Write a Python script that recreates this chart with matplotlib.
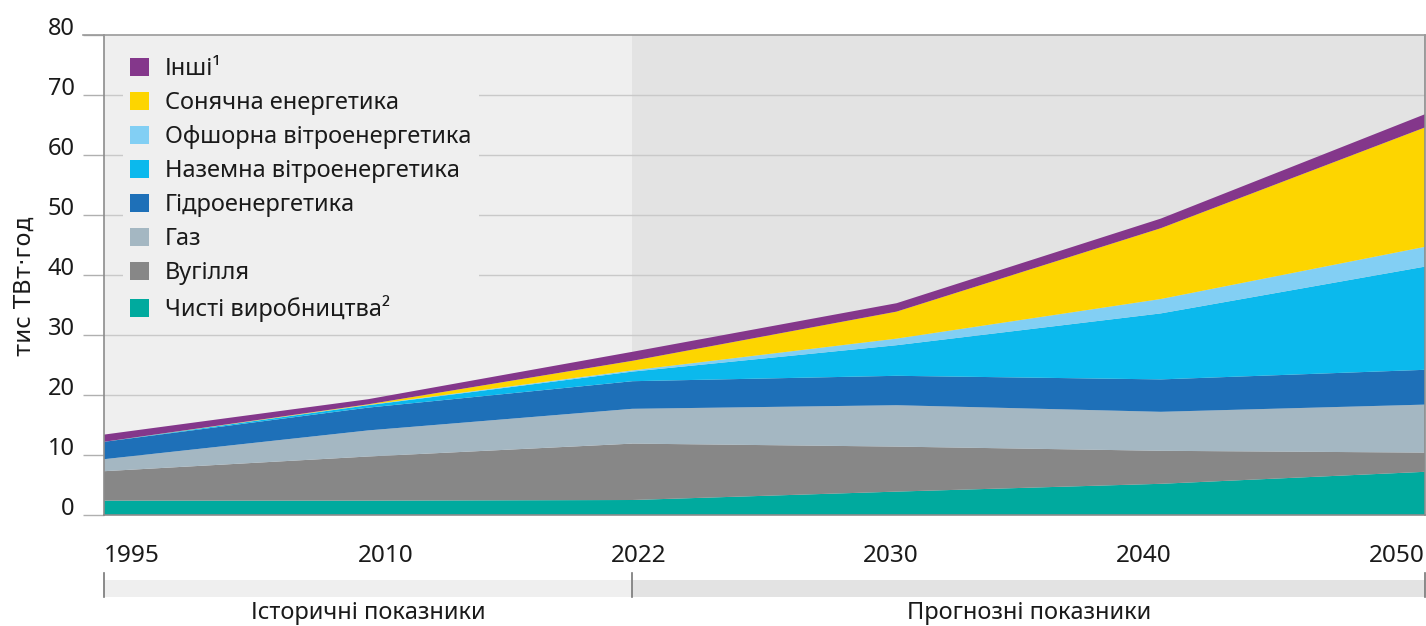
import matplotlib
matplotlib.use("Agg")
import matplotlib.pyplot as plt
from matplotlib.patches import Patch, Rectangle
from matplotlib.transforms import ScaledTranslation, blended_transform_factory

plt.rcParams['font.family'] = ['Noto Sans', 'DejaVu Sans']

years = ['1995', '2010', '2022', '2030', '2040', '2050']
clean = [2.4, 2.4, 2.5, 3.9, 5.2, 7.2]
coal = [4.9, 7.35, 9.4, 7.5, 5.5, 3.2]
gas = [2.0, 4.35, 5.8, 6.9, 6.5, 8.0]
hydro = [2.9, 3.8, 4.6, 4.9, 5.4, 5.8]
onshore = [0.0, 0.4, 1.6, 5.1, 11.0, 17.2]
offshore = [0.0, 0.05, 0.2, 1.1, 2.4, 3.3]
solar = [0.0, 0.1, 1.6, 4.5, 11.8, 19.9]
others = [1.2, 0.85, 1.5, 1.4, 1.6, 2.2]

labels = ['Чисті виробництва²', 'Вугілля', 'Газ', 'Гідроенергетика',
          'Наземна вітроенергетика', 'Офшорна вітроенергетика',
          'Сонячна енергетика', 'Інші¹']
colors = ['#00aa9e', '#878787', '#a4b7c2', '#1e70b8',
          '#0bb9ed', '#82cff4', '#fdd500', '#84378b']
periods = ['Історичні показники', 'Прогнозні показники']

W, H = 1426, 626
x = list(range(len(years)))
split = years.index('2022')
fs = 17
ink = '#1a1a1a'

fig = plt.figure(figsize=(W / 100, H / 100), dpi=100)
ax = fig.add_axes([104 / W, 1 - 515 / H, 1321 / W, 480 / H])
ax.set_facecolor('none')

# background shading for historic / forecast parts
ax.axvspan(x[0], x[split], color='#efefef', zorder=0, lw=0)
ax.axvspan(x[split], x[-1], color='#e3e3e3', zorder=0, lw=0)
for v in range(10, 80, 10):
    ax.axhline(v, color='#c9c9c9', lw=1, zorder=0.5)

ax.stackplot(x, clean, coal, gas, hydro, onshore, offshore, solar, others,
             colors=colors, lw=0, zorder=2)

ax.set_xlim(x[0], x[-1])
ax.set_ylim(0, 80)
ax.set_yticks(range(0, 81, 10))
ax.tick_params(axis='y', length=15.1, width=1, color='#b0b0b0', pad=6,
               labelsize=fs, labelcolor=ink)
for lab in ax.get_yticklabels():
    lab.set_transform(lab.get_transform() + ScaledTranslation(0, 6.5 / 72, fig.dpi_scale_trans))

# year labels: first left-aligned, last right-aligned, the rest evenly between
ax.set_xticks([])
tw = 58 / 1321
for i, yr in enumerate(years):
    cx = tw / 2 + i * (1 - tw) / (len(years) - 1)
    ha = 'center'
    if i == 0:
        cx, ha = 0, 'left'
    elif i == len(years) - 1:
        cx, ha = 1, 'right'
    ax.text(cx, -(562 - 515) / 480, yr, transform=ax.transAxes, ha=ha,
            va='baseline', fontsize=fs + 0.5, color=ink)

for s in ['left', 'bottom', 'right']:
    ax.spines[s].set_color('#8c8c8c')
    ax.spines[s].set_linewidth(1.2)
ax.spines['top'].set_color('#9a9a9a')
ax.spines['top'].set_linewidth(1.2)
ax.plot([-21 / 1321, 0], [1, 1], color='#9a9a9a', lw=1.2, clip_on=False,
        transform=ax.transAxes)

fig.text(24 / W, 1 - 286 / H, 'тис ТВт·год', rotation=90, va='center', ha='center',
         fontsize=16.5, color=ink, family='DejaVu Sans')

# period band below the axis
tr = blended_transform_factory(ax.transData, ax.transAxes)
y0, y1 = -(596.5 - 515) / 480, -(580 - 515) / 480
ax.add_patch(Rectangle((x[0], y0), x[split] - x[0], y1 - y0, transform=tr,
                       color='#efefef', lw=0, clip_on=False))
ax.add_patch(Rectangle((x[split], y0), x[-1] - x[split], y1 - y0, transform=tr,
                       color='#e3e3e3', lw=0, clip_on=False))
for xv in (x[0], x[split], x[-1]):
    ax.plot([xv, xv], [-(573 - 515) / 480, y0], color='#777777', lw=1.2,
            transform=tr, clip_on=False)
ax.text((x[0] + x[split]) / 2, -(619 - 515) / 480, periods[0], transform=tr,
        ha='center', va='baseline', fontsize=fs, color=ink)
ax.text((x[split] + x[-1]) / 2, -(619 - 515) / 480, periods[1], transform=tr,
        ha='center', va='baseline', fontsize=fs, color=ink)

handles = [Patch(facecolor=c, edgecolor='none') for c in colors][::-1]
leg = ax.legend(handles, labels[::-1], loc='upper left', bbox_to_anchor=(0.0144, 0.968),
                frameon=True, facecolor='#efefef', edgecolor='none', framealpha=1,
                fontsize=fs, handlelength=0.8, handleheight=0.8, handletextpad=0.68,
                labelspacing=0.42, borderpad=0.3, borderaxespad=0, fancybox=False)
leg.set_zorder(1)
for t in leg.get_texts():
    t.set_color(ink)

fig.savefig('out.png', dpi=100)
